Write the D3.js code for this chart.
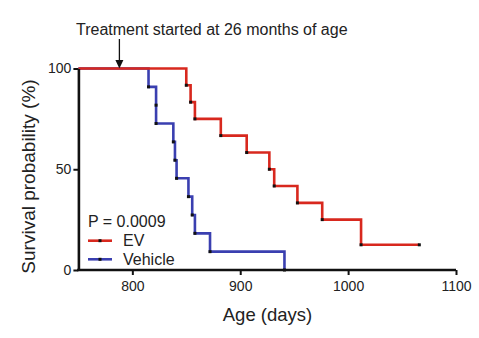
<!DOCTYPE html>
<html>
<head>
<meta charset="utf-8">
<script src="https://cdn.jsdelivr.net/npm/d3@7"></script>
<style>
  html, body { margin: 0; padding: 0; background: #fff; }
  svg { display: block; }
  text { font-family: "Liberation Sans", Arial, sans-serif; fill: #222; }
</style>
</head>
<body>
<svg id="chart" width="479" height="338"></svg>
<script>
// ---- data ----
const vehicleDays = [815, 822, 822, 838, 839.5, 841, 852, 855.5, 858, 872, 941];
const vehicleSurv = [90.9, 81.8, 72.7, 63.6, 54.5, 45.5, 36.4, 27.3, 18.2, 9.1, 0];
const evDays = [850, 854, 858, 882, 906, 927, 931.5, 953, 976, 1012, 1066];
const evSurv = [91.7, 83.3, 75, 66.7, 58.3, 50, 41.7, 33.3, 25, 12.5, 12.5];
const seriesNames = ["EV", "Vehicle"];
const xTicks = [800, 900, 1000, 1100];
const yTicks = [0, 50, 100];
const xDomain = [750, 1100];
const yDomain = [0, 100];
const startSurv = 100;
const treatmentDay = 788;
const annotation = "Treatment started at 26 months of age";
const pText = "P = 0.0009";
const xTitle = "Age (days)";
const yTitle = "Survival probability (%)";

const colors = { EV: "#d8281e", Vehicle: "#3a3fb0" };

const svg = d3.select("#chart");
const x = d3.scaleLinear().domain(xDomain).range([78.4, 456]);
const y = d3.scaleLinear().domain(yDomain).range([270, 68.5]);

function pts(days, surv) {
  const p = [[xDomain[0], startSurv]];
  days.forEach((d, i) => p.push([d, surv[i]]));
  return p;
}
const series = [
  { name: "Vehicle", points: pts(vehicleDays, vehicleSurv) },
  { name: "EV", points: pts(evDays, evSurv) }
];

const line = d3.line().x(d => x(d[0])).y(d => y(d[1])).curve(d3.curveStepAfter);

series.forEach(s => {
  svg.append("path")
    .attr("d", line(s.points))
    .attr("fill", "none")
    .attr("stroke", colors[s.name])
    .attr("stroke-width", 2.6);
});
series.forEach(s => {
  svg.append("g").selectAll("rect")
    .data(s.points.slice(1))
    .join("rect")
    .attr("x", d => x(d[0]) - 1.5)
    .attr("y", d => y(d[1]) - 1.5)
    .attr("width", 3).attr("height", 3)
    .attr("fill", "#111");
});

// axes
const xAxis = svg.append("g").attr("transform", "translate(0,270)")
  .call(d3.axisBottom(x).tickValues(xTicks).tickFormat(d3.format("d")).tickSize(5).tickSizeOuter(0).tickPadding(6));
const yAxis = svg.append("g").attr("transform", "translate(78.4,0)")
  .call(d3.axisLeft(y).tickValues(yTicks).tickFormat(d3.format("d")).tickSize(5).tickSizeOuter(0).tickPadding(2));
[xAxis, yAxis].forEach(g => {
  g.select(".domain").attr("stroke", "#111").attr("stroke-width", 2.6);
  g.selectAll(".tick line").attr("stroke", "#111").attr("stroke-width", 2);
  g.selectAll(".tick text").attr("font-size", 14).attr("fill", "#222")
    .style("font-family", "'Liberation Sans', Arial, sans-serif");
});
xAxis.select(".domain").attr("d", `M${x(xDomain[0]) - 1.3},0H${x(xDomain[1])}`);

// axis titles
svg.append("text").attr("x", 267.5).attr("y", 321).attr("text-anchor", "middle")
  .attr("font-size", 18.5).text(xTitle);
svg.append("text").attr("transform", "translate(35,176.5) rotate(-90)")
  .attr("text-anchor", "middle").attr("font-size", 19).text(yTitle);

// annotation
svg.append("text").attr("x", 76).attr("y", 35).attr("font-size", 16).text(annotation);
const ax = x(treatmentDay);
svg.append("line").attr("x1", ax).attr("x2", ax).attr("y1", 39).attr("y2", 62)
  .attr("stroke", "#111").attr("stroke-width", 1.3);
svg.append("path").attr("d", `M${ax - 4},60L${ax + 4},60L${ax},${y(100)}Z`).attr("fill", "#111");

// legend
svg.append("text").attr("x", 88).attr("y", 226.5).attr("font-size", 16).text(pText);
const leg = [{ name: "EV", ly: 240.7, ty: 246 }, { name: "Vehicle", ly: 259.3, ty: 264.5 }];
leg.forEach(l => {
  svg.append("line").attr("x1", 88).attr("x2", 112).attr("y1", l.ly).attr("y2", l.ly)
    .attr("stroke", colors[l.name]).attr("stroke-width", 2.6);
  svg.append("rect").attr("x", 98.5).attr("y", l.ly - 1.5).attr("width", 3).attr("height", 3).attr("fill", "#111");
  svg.append("text").attr("x", 123).attr("y", l.ty).attr("font-size", 16).text(l.name);
});
</script>
</body>
</html>
